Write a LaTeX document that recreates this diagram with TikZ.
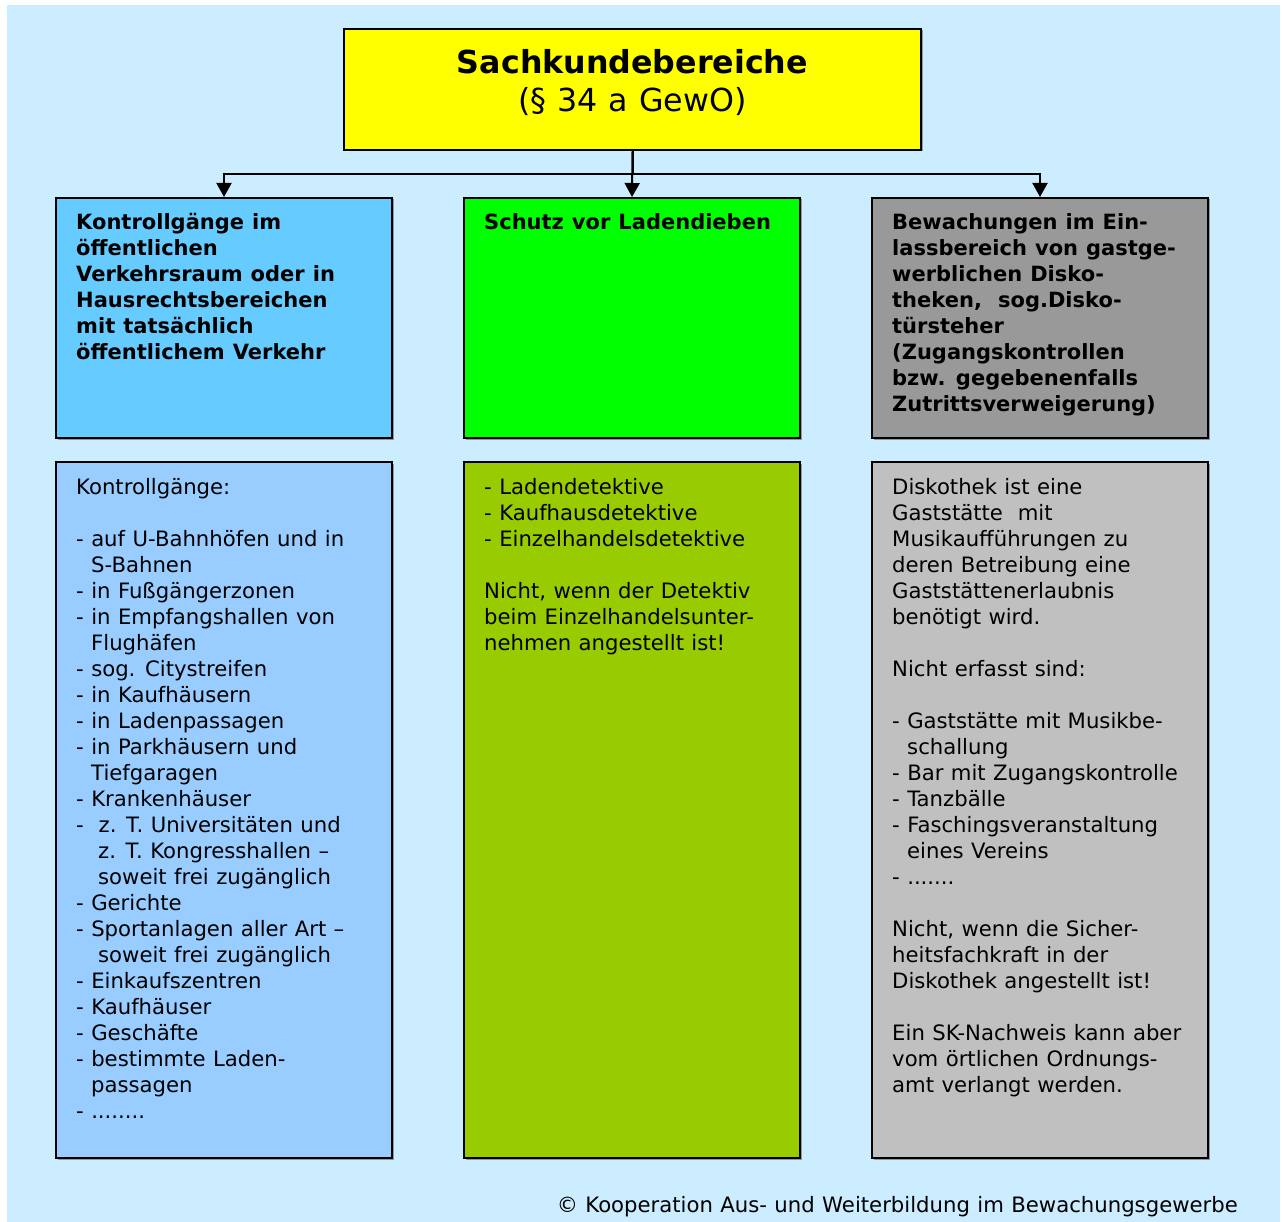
\documentclass[tikz,border=0pt]{standalone}
\usepackage{fontspec}
\setmainfont{DejaVu Sans}[WordSpace=1.1]
\usetikzlibrary{arrows.meta,positioning,calc,shadows}

\definecolor{bgblue}{HTML}{CCECFF}
\definecolor{titleyellow}{HTML}{FFFF00}
\definecolor{headblue}{HTML}{66CCFF}
\definecolor{listblue}{HTML}{99CCFF}
\definecolor{headgreen}{HTML}{00FF00}
\definecolor{listgreen}{HTML}{99CC00}
\definecolor{headgray}{HTML}{999999}
\definecolor{listgray}{HTML}{C0C0C0}
\definecolor{shadowgray}{HTML}{8A9AA6}

\tikzset{
  frame/.style={draw, line width=2pt, inner sep=0pt, anchor=north west,
                drop shadow={shadow xshift=1.5pt, shadow yshift=-1.5pt, fill=shadowgray, opacity=1}},
  area/.style={frame, minimum width=336pt},
  headbox/.style={area, minimum height=240pt},
  listbox/.style={area, minimum height=696pt},
  boxtext/.style={anchor=north west, inner sep=0pt, align=left, font=\fontsize{21.2}{26}\selectfont},
  headtext/.style={boxtext, font=\fontsize{21}{26}\selectfont\bfseries},
  conn/.style={line width=2pt, -{Triangle[width=15pt,length=14pt]}}
}

\begin{document}
\begin{tikzpicture}[x=1pt,y=-1pt]
    \useasboundingbox (0,0) rectangle (1282,1222);
    % Background
    \fill[bgblue] (7,5) rectangle (1280,1222);

    % Title
    \node[frame, fill=titleyellow, minimum width=577pt, minimum height=121pt] (title) at (343,28) {};
    \node[align=center, inner sep=0pt, font=\fontsize{31.7}{38}\selectfont, yshift=7pt] (titletext) at (title.center)
        {\textbf{Sachkundebereiche}\\(§ 34 a GewO)};

    % Areas
    \node[headbox, fill=headblue] (kontrolle) at (55,197) {};
    \node[headbox, fill=headgreen] (laden) at (463,197) {};
    \node[headbox, fill=headgray] (disko) at (871,197) {};
    \node[listbox, fill=listblue] (kontrolleliste) at (55,461) {};
    \node[listbox, fill=listgreen] (ladenliste) at (463,461) {};
    \node[listbox, fill=listgray] (diskoliste) at (871,461) {};

    % Connectors
    \draw[conn] (title.south) -- (laden.north);
    \draw[conn] (title.south) -- ++(0,23) -| (kontrolle.north);
    \draw[conn] (title.south) -- ++(0,23) -| (disko.north);

    % Headings
    \node[headtext, below right=16pt and 21pt of kontrolle.north west] (kontrolletext)
        {Kontrollgänge im\\öffentlichen\\Verkehrsraum oder in\\Hausrechtsbereichen\\mit tatsächlich\\öffentlichem Verkehr};
    \node[headtext, below right=16pt and 21pt of laden.north west] (ladentext) {Schutz vor Ladendieben};
    \node[headtext, below right=16pt and 21pt of disko.north west] (diskotext)
        {Bewachungen im Ein-\\lassbereich von gastge-\\werblichen Disko-\\theken,\ \ sog.Disko-\\türsteher\\(Zugangskontrollen\\bzw. gegebenenfalls\\Zutrittsverweigerung)};

    % Lists
    \node[boxtext, below right=17pt and 21pt of kontrolleliste.north west] (kontrolleinhalt)
        {Kontrollgänge:\\
         \mbox{}\\
         - auf U-Bahnhöfen und in\\
         \hspace*{15pt}S-Bahnen\\
         - in Fußgängerzonen\\
         - in Empfangshallen von\\
         \hspace*{15pt}Flughäfen\\
         - sog. Citystreifen\\
         - in Kaufhäusern\\
         - in Ladenpassagen\\
         - in Parkhäusern und\\
         \hspace*{15pt}Tiefgaragen\\
         - Krankenhäuser\\
         -\ \ z. T. Universitäten und\\
         \hspace*{22pt}z. T. Kongresshallen –\\
         \hspace*{22pt}soweit frei zugänglich\\
         - Gerichte\\
         - Sportanlagen aller Art –\\
         \hspace*{22pt}soweit frei zugänglich\\
         - Einkaufszentren\\
         - Kaufhäuser\\
         - Geschäfte\\
         - bestimmte Laden-\\
         \hspace*{15pt}passagen\\
         - ........};
    \node[boxtext, below right=17pt and 21pt of ladenliste.north west] (ladeninhalt)
        {- Ladendetektive\\
         - Kaufhausdetektive\\
         - Einzelhandelsdetektive\\
         \mbox{}\\
         Nicht, wenn der Detektiv\\
         beim Einzelhandelsunter-\\
         nehmen angestellt ist!};
    \node[boxtext, below right=17pt and 21pt of diskoliste.north west] (diskoinhalt)
        {Diskothek ist eine\\
         Gaststätte\ \ mit\\
         Musikaufführungen zu\\
         deren Betreibung eine\\
         Gaststättenerlaubnis\\
         benötigt wird.\\
         \mbox{}\\
         Nicht erfasst sind:\\
         \mbox{}\\
         - Gaststätte mit Musikbe-\\
         \hspace*{15pt}schallung\\
         - Bar mit Zugangskontrolle\\
         - Tanzbälle\\
         - Faschingsveranstaltung\\
         \hspace*{15pt}eines Vereins\\
         - .......\\
         \mbox{}\\
         Nicht, wenn die Sicher-\\
         heitsfachkraft in der\\
         Diskothek angestellt ist!\\
         \mbox{}\\
         Ein SK-Nachweis kann aber\\
         vom örtlichen Ordnungs-\\
         amt verlangt werden.};

    % Footer
    \node[anchor=base east, inner sep=0pt, font=\fontsize{21.2}{26}\selectfont] (quelle) at (1238,1212)
        {© Kooperation Aus- und Weiterbildung im Bewachungsgewerbe};
\end{tikzpicture}
\end{document}
